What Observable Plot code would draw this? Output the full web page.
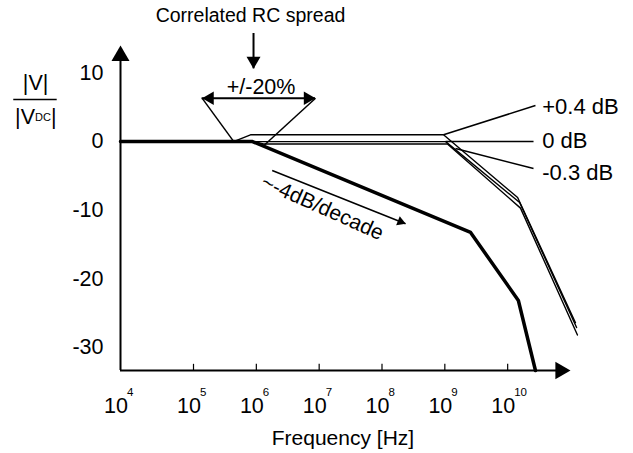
<!DOCTYPE html>
<html>
<head>
<meta charset="utf-8">
<script src="https://cdn.jsdelivr.net/npm/d3@7"></script>
<script src="https://cdn.jsdelivr.net/npm/@observablehq/plot@0.6"></script>
<style>
  html, body { margin: 0; padding: 0; background: #fff; }
  #chart svg { display: block; }
</style>
</head>
<body>
<div id="chart"></div>
<script>
// ---- data (frequency in Hz, magnitude in dB as drawn) ----
const xTickValues = [1e4, 1e5, 1e6, 1e7, 1e8, 1e9, 1e10];
const xTickExponents = ["4", "5", "6", "7", "8", "9", "10"];
const yTickValues = [10, 0, -10, -20, -30];

// thick nominal curve (~-4 dB/decade)
const thickFreq = [1e4, 8.7e5, 2.57e9, 1.48e10, 2.77e10];
const thickDb   = [0, 0, -13.25, -23.16, -33.37];

// correlated RC spread curves
const plusFreq  = [1e4, 4.34e5, 8.07e5, 9.53e8, 1.44e10, 1.20e11];
const plusDb    = [0, 0, 0.99, 0.99, -8.15, -26.4];
const zeroFreq  = [1e4, 1.03e9, 1.55e10, 1.25e11];
const zeroDb    = [0, 0, -8.88, -27.1];
const minusFreq = [1e4, 9.02e5, 1.30e6, 1.10e9, 1.60e10, 1.29e11];
const minusDb   = [0, 0, -0.35, -0.35, -9.7, -28.2];

const curveLabels = ["+0.4 dB", "0 dB", "-0.3 dB"];
const leaderFrom  = [[9.53e8, 0.99], [1.03e9, 0], [1.48e9, -1.0]];
const leaderTo    = [[2.77e10, 5.26], [2.58e10, 0], [2.58e10, -3.92]];
const labelAt     = [[3.55e10, 5.12], [3.55e10, 0.09], [3.55e10, -4.58]];

const yMin = -33.37, yMax = 14.01;

const pts = (f, v) => f.map((x, i) => ({x, y: v[i]}));
const thick = pts(thickFreq, thickDb);
const plus = pts(plusFreq, plusDb);
const zero = pts(zeroFreq, zeroDb);
const minus = pts(minusFreq, minusDb);

const leaders = curveLabels.map((l, i) => ({
  x1: leaderFrom[i][0], y1: leaderFrom[i][1], x2: leaderTo[i][0], y2: leaderTo[i][1],
  lx: labelAt[i][0], ly: labelAt[i][1], label: l
}));

// annotation geometry (data units)
const funnel = [
  {x1: 1.37e5, y1: 6.33, x2: 4.38e5, y2: 0},
  {x1: 8.75e6, y1: 6.33, x2: 1.32e6, y2: -0.57}
];
const spread = {x1: 1.37e5, x2: 8.75e6, y: 6.33};
const downArrow = {x: 9.02e5, y1: 15.76, y2: 10.61};
const slopeArrow = {x1: 1.79e6, y1: -4.21, x2: 2.37e8, y2: -11.98};

const font = "Liberation Sans, Arial, Helvetica, sans-serif";
const ticks = xTickValues.map((v, i) => ({v, e: xTickExponents[i]}));

const chart = Plot.plot({
  width: 633,
  height: 453,
  margin: 0,
  style: {fontFamily: font, background: "#fff", color: "#000", overflow: "visible"},
  x: {type: "log", domain: [1e4, 1e5, 1e11], range: [120, 193, 570], axis: null},
  y: {domain: [yMin, yMax], range: [370, 45], axis: null},
  marks: [
    // axes
    Plot.ruleY([yMin], {x1: 1e4, x2: 9e10, stroke: "#000", strokeWidth: 2}),
    Plot.ruleX([1e4], {y1: yMin, y2: yMax - 1.5, stroke: "#000", strokeWidth: 2}),
    Plot.dot([{x: 1e4, y: yMax}], {x: "x", y: "y", symbol: "triangle", r: 6.7, fill: "#000", stroke: "none", dy: 10.4}),
    Plot.dot([{x: 1e11, y: yMin}], {x: "x", y: "y", symbol: "triangle", r: 6.5, fill: "#000", stroke: "none", rotate: 90, dx: -10.1}),
    Plot.ruleX(xTickValues.slice(1), {y1: yMin, y2: yMin + 0.9, stroke: "#000", strokeWidth: 1.2}),
    // x tick labels
    Plot.text(ticks, {x: "v", y: () => yMin, text: () => "10", textAnchor: "end", dx: 7.5, dy: 35.5, fontSize: 21.5, lineAnchor: "middle"}),
    Plot.text(ticks, {x: "v", y: () => yMin, text: "e", textAnchor: "start", dx: 6.5, dy: 22, fontSize: 11.5, lineAnchor: "middle"}),
    // y tick labels
    Plot.text(yTickValues, {x: () => 1e4, y: d => d, text: d => String(d), textAnchor: "end", dx: -17, fontSize: 21.5, lineAnchor: "middle"}),
    // axis titles
    Plot.text(["Frequency [Hz]"], {x: () => 2.39e7, y: () => yMin, text: d => d, dy: 68, fontSize: 21, lineAnchor: "middle"}),
    Plot.text(["|V|"], {x: () => 686, y: () => 6.14, text: d => d, dy: -9, fontSize: 21.5, lineAnchor: "bottom"}),
    Plot.ruleY([6.14], {x1: 345, x2: 1358, stroke: "#000", strokeWidth: 1.5}),
    Plot.text(["|V"], {x: () => 686, y: () => 6.14, text: d => d, dx: -20.5, dy: 25, textAnchor: "start", fontSize: 21.5, lineAnchor: "bottom"}),
    Plot.text(["DC"], {x: () => 686, y: () => 6.14, text: d => d, dx: -0.5, dy: 22, textAnchor: "start", fontSize: 11, lineAnchor: "bottom"}),
    Plot.text(["|"], {x: () => 686, y: () => 6.14, text: d => d, dx: 15.4, dy: 25, textAnchor: "start", fontSize: 21.5, lineAnchor: "bottom"}),
    // curves
    Plot.line(plus, {x: "x", y: "y", stroke: "#000", strokeWidth: 1.4}),
    Plot.line(zero, {x: "x", y: "y", stroke: "#000", strokeWidth: 1.4}),
    Plot.line(minus, {x: "x", y: "y", stroke: "#000", strokeWidth: 1.4}),
    Plot.line(thick, {x: "x", y: "y", stroke: "#000", strokeWidth: 3.5}),
    // leaders + labels
    Plot.link(leaders, {x1: "x1", y1: "y1", x2: "x2", y2: "y2", stroke: "#000", strokeWidth: 1.5}),
    Plot.text(leaders, {x: "lx", y: "ly", text: "label", textAnchor: "start", fontSize: 22, lineAnchor: "middle"}),
    // correlated RC spread annotation
    Plot.text(["Correlated RC spread"], {x: () => 8.07e5, y: () => 17.5, text: d => d, fontSize: 19.5, lineAnchor: "bottom"}),
    Plot.ruleX([downArrow], {x: "x", y1: "y1", y2: "y2", stroke: "#000", strokeWidth: 2}),
    Plot.dot([downArrow], {x: "x", y: "y2", symbol: "triangle", r: 5.2, fill: "#000", stroke: "none", rotate: 180, dy: -8.1}),
    Plot.text(["+/-20%"], {x: () => 1.19e6, y: () => 6.97, text: d => d, fontSize: 21.5, lineAnchor: "bottom"}),
    Plot.ruleY([spread], {x1: "x1", x2: "x2", y: "y", stroke: "#000", strokeWidth: 2}),
    Plot.dot([spread], {x: "x1", y: "y", symbol: "triangle", r: 5, fill: "#000", stroke: "none", rotate: -90, dx: 7.8}),
    Plot.dot([spread], {x: "x2", y: "y", symbol: "triangle", r: 5, fill: "#000", stroke: "none", rotate: 90, dx: -7.8}),
    Plot.link(funnel, {x1: "x1", y1: "y1", x2: "x2", y2: "y2", stroke: "#000", strokeWidth: 1.5}),
    // slope annotation
    Plot.link([slopeArrow], {x1: "x1", y1: "y1", x2: "x2", y2: "y2", stroke: "#000", strokeWidth: 1.5}),
    Plot.dot([slopeArrow], {x: "x2", y: "y2", symbol: "triangle", r: 3.6, fill: "#000", stroke: "none", rotate: 111.8, dx: -5.0, dy: -2.0}),
    Plot.text(["~-4dB/decade"], {x: () => 1.13e7, y: () => -9.61, text: d => d, rotate: 24, fontSize: 21, lineAnchor: "middle"})
  ]
});
document.getElementById("chart").appendChild(chart);
</script>
</body>
</html>
